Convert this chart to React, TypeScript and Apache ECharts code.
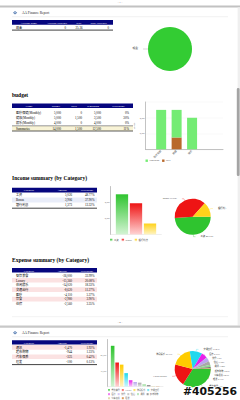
import React, { useEffect, useRef } from 'react';
import * as echarts from 'echarts';

const FONT = "'Liberation Serif','Noto Sans CJK SC',serif";

// ---------------- data ----------------
const reportTitle = 'AA Finance Report';
const pageLabels = ['- 1 -', '- 2 -'];

const accountHeaders = ['Account name', 'Account currency', 'Rate', 'Base currency'];
const accountNames = ['现金'];
const accountAmounts = [0];
const accountRates = ['25.36'];
const accountBaseAmounts = [0];

const budgetTitle = 'budget';
const budgetHeaders = ['Name', 'budget', 'used', 'remaining', 'Percentage'];
const budgetNames = ['医疗保健', '健康', '娱乐'];
const budgetPeriod = '(Monthly)';
const budgetAmounts = [5000, 5000, 4000];
const budgetUsed = [0, 1500, 0];
const budgetRemaining = [5000, 3500, 4000];
const budgetPercent = ['0%', '30%', '0%'];
const budgetSummary = ['Summarize', '14,000', '1,500', '12,500', '11%'];
const budgetSeriesNames = ['used', 'remaining'];
const budgetAxisName = 'amount';

const incomeTitle = 'Income summary (by Category)';
const expenseTitle = 'Expense summary (by Category)';
const summaryHeaders = ['Category', 'Amount', 'Percentage'];
const incomeCategories = ['工资', 'Bonus', '银行利息'];
const incomeAmounts = [5026, 3906, 1373];
const incomePercent = ['48.77%', '37.90%', '13.32%'];

const expenseCategories = ['餐饮美食', 'Luxury', '休闲娱乐', '交通出行', '医疗', '饮食', '住宿', '通讯', '超市购物', '汽车保养', '理发'];
const expenseAmounts = [26000, 15360, 14020, 8620, 4110, 2980, 2560, 1470, 944, 325, 100];
const expensePercent = ['33.99%', '20.08%', '18.33%', '11.27%', '5.37%', '3.90%', '3.35%', '1.92%', '1.23%', '0.42%', '0.13%'];
const watermark = '#405256';

// ---------------- styles ----------------
const NAVY = '#06067e';
const incomeColors = [
  ['#2fc42f', '#d4f4d4'],
  ['#ee1414', '#ffd4d4'],
  ['#ffd21a', '#fff4c4'],
];
const expenseColors = [
  ['#2fc42f', '#d4f4d4'],
  ['#ee1414', '#ffd4d4'],
  ['#ffcc00', '#fff4c4'],
  ['#22d8ee', '#d0f6fb'],
  ['#e820e8', '#f8d0f8'],
  ['#b9a6ee', '#ece6fb'],
  ['#a8a8a8', '#e8e8e8'],
  ['#8fd88f', '#e2f6e2'],
  ['#666666', '#cccccc'],
  ['#d8c888', '#f4eed8'],
  ['#c86400', '#f0d4b8'],
];

const fmt = (n: number) => n.toLocaleString('en-US');
const grad = (a: string, b: string) =>
  new echarts.graphic.LinearGradient(0, 0, 0, 1, [
    { offset: 0, color: a },
    { offset: 1, color: b },
  ]);

const txt = (x: number, y: number, text: string, o: any = {}) => ({
  type: 'text',
  x,
  y,
  silent: true,
  style: { text, fill: '#000', fontSize: 3.1, fontFamily: FONT, align: 'left', verticalAlign: 'middle', ...o },
});
const rect = (x: number, y: number, w: number, h: number, fill: string, r = 0) => ({
  type: 'rect',
  silent: true,
  shape: { x, y, width: w, height: h, r },
  style: { fill },
});
const line = (x1: number, y1: number, x2: number, y2: number, stroke: string, lineWidth: number) => ({
  type: 'line',
  silent: true,
  shape: { x1, y1, x2, y2 },
  style: { stroke, lineWidth },
});

type Col = { x: number; align: 'left' | 'right' | 'center' };
function header(x0: number, x1: number, y: number, h: number, centers: number[], labels: string[]) {
  const els: any[] = [rect(x0, y, x1 - x0, h, NAVY)];
  labels.forEach((l, i) => els.push(txt(centers[i], y + h / 2, l, { fill: '#fff', align: 'center', fontSize: 2.9 })));
  return els;
}
function rows(x0: number, x1: number, y0: number, rh: number, cols: Col[], data: string[][], fills: (string | null)[]) {
  const els: any[] = [];
  data.forEach((r, ri) => {
    const y = y0 + ri * rh;
    if (fills[ri]) els.push(rect(x0, y, x1 - x0, rh, fills[ri] as string));
    r.forEach((c, ci) => els.push(txt(cols[ci].x, y + rh / 2, c, { align: cols[ci].align })));
  });
  return els;
}
function pageHeader(y: number) {
  return [
    {
      type: 'polygon',
      silent: true,
      shape: { points: [[13, y], [15, y - 1.8], [17.2, y], [15, y + 1.8]] },
      style: { fill: '#5a7db0' },
    },
    {
      type: 'polygon',
      silent: true,
      shape: { points: [[14, y - 0.2], [15, y - 1.1], [16.2, y - 0.2], [15, y + 0.7]] },
      style: { fill: '#a9c1e0' },
    },
    txt(22, y, reportTitle, { fontSize: 3.5, fill: '#222' }),
    line(12, y + 4, 228, y + 4, '#e4e4e4', 0.5),
  ];
}

function buildGraphic() {
  const els: any[] = [];
  // page chrome
  els.push(txt(120, 2.3, pageLabels[0], { align: 'center', fontSize: 2.8, fill: '#444' }));
  els.push(rect(0, 5.6, 240, 1.8, '#c2c2c2'));
  els.push(rect(237.6, 7.4, 2.4, 318, '#efefef'));
  els.push(rect(236.8, 88, 2.8, 88, '#a4a4a4', 1.3));
  els.push(...pageHeader(12.7));

  // accounts table
  els.push(...header(12, 113, 20, 4.7, [28.7, 57, 79, 98.7], accountHeaders));
  els.push(
    ...rows(12, 113, 24.8, 5, [
      { x: 16, align: 'left' },
      { x: 66, align: 'right' },
      { x: 79, align: 'center' },
      { x: 109, align: 'right' },
    ], accountNames.map((n, i) => [n, fmt(accountAmounts[i]), accountRates[i], fmt(accountBaseAmounts[i])]), [null])
  );
  els.push(line(12, 30.1, 113, 30.1, '#111', 0.8));

  // budget
  els.push(txt(12, 94.8, budgetTitle, { fontSize: 5.5, fontWeight: 'bold' }));
  els.push(...header(12, 133, 103.6, 4.5, [29, 56, 74, 93, 118.5], budgetHeaders));
  const bCols: Col[] = [
    { x: 16, align: 'left' },
    { x: 61, align: 'right' },
    { x: 82, align: 'right' },
    { x: 101, align: 'right' },
    { x: 129, align: 'right' },
  ];
  els.push(
    ...rows(12, 133, 110.2, 5, bCols,
      budgetNames.map((n, i) => [n + budgetPeriod, fmt(budgetAmounts[i]), fmt(budgetUsed[i]), fmt(budgetRemaining[i]), budgetPercent[i]]),
      [null, null, null])
  );
  els.push(...rows(12, 133, 125.9, 5, bCols, [budgetSummary], ['#f8f3d6']));
  els.push(line(12, 125.8, 133, 125.8, '#333', 0.5));
  els.push(line(12, 131, 133, 131, '#333', 0.8));

  // income
  const sCols: Col[] = [
    { x: 16, align: 'left' },
    { x: 72, align: 'right' },
    { x: 94.5, align: 'right' },
  ];
  els.push(txt(12, 178.3, incomeTitle, { fontSize: 5.5, fontWeight: 'bold' }));
  els.push(...header(12, 97, 187.8, 4.6, [29, 62, 87], summaryHeaders));
  els.push(
    ...rows(12, 97, 192.6, 4.9, sCols,
      incomeCategories.map((c, i) => [c, fmt(incomeAmounts[i]), incomePercent[i]]),
      [null, '#e9edf9', null])
  );
  els.push(line(12, 208.2, 97, 208.2, '#111', 0.8));

  // expense (page 1 part)
  const expRows = expenseCategories.map((c, i) => [c, fmt(-expenseAmounts[i]), expensePercent[i]]);
  const expFills = expenseCategories.map((_, i) => (i % 2 === 1 ? '#fbe2e2' : null));
  els.push(txt(12, 259.5, expenseTitle, { fontSize: 5.5, fontWeight: 'bold' }));
  els.push(...header(12, 97, 268, 4.5, [29, 62, 87], summaryHeaders));
  els.push(...rows(12, 97, 273.2, 4.7, sCols, expRows.slice(0, 7), expFills.slice(0, 7)));

  // page break
  els.push(line(12, 316.7, 228, 316.7, '#e6e6e6', 0.5));
  els.push(txt(120, 322.6, pageLabels[1], { align: 'center', fontSize: 2.8, fill: '#444' }));
  els.push(rect(0, 325.4, 240, 2.4, '#c8c8c8'));
  els.push(...pageHeader(332.7));

  // expense (page 2 part)
  els.push(...header(12, 97, 340.2, 4.3, [29, 62, 87], summaryHeaders));
  els.push(...rows(12, 97, 345, 4.7, sCols, expRows.slice(7), expFills.slice(7)));
  els.push(line(12, 364.6, 97, 364.6, '#111', 0.8));

  // watermark
  els.push({
    type: 'text',
    x: 210,
    y: 391,
    z: 100,
    silent: true,
    style: {
      text: watermark,
      fill: '#111',
      stroke: '#fff',
      lineWidth: 1.6,
      fontSize: 10.8,
      fontWeight: 'bold',
      fontFamily: "'DejaVu Sans',sans-serif",
      align: 'center',
      verticalAlign: 'middle',
    },
  });
  return els;
}

const smallLabel = { fontSize: 2.5, color: '#555', fontFamily: FONT };
const axisLineStyle = { show: true, lineStyle: { color: '#9a9a9a', width: 0.6 } };

function buildOption() {
  const budgetCats = ['', ...budgetNames, '', ''];
  const pad = (arr: number[]) => ['-', ...arr, '-', '-'];

  const series: any[] = [
    // account pie
    {
      type: 'pie',
      center: [170, 49],
      radius: 22,
      startAngle: 0,
      data: accountNames.map((n, i) => ({ name: n, value: accountAmounts[i], itemStyle: { color: '#33cc33' } })),
      label: { fontSize: 2.8, formatter: '{b}', color: '#333', fontFamily: FONT },
      labelLine: { length: 2.5, length2: 2.5, lineStyle: { width: 0.4, color: '#999' } },
    },
    // budget bars
    {
      name: budgetSeriesNames[0],
      type: 'bar',
      stack: 'budget',
      xAxisIndex: 0,
      yAxisIndex: 0,
      barWidth: 10,
      itemStyle: { color: '#b9692c' },
      data: pad(budgetUsed),
    },
    {
      name: budgetSeriesNames[1],
      type: 'bar',
      stack: 'budget',
      xAxisIndex: 0,
      yAxisIndex: 0,
      barWidth: 10,
      itemStyle: { color: '#74ec74' },
      data: pad(budgetRemaining),
    },
    // income bars
    ...incomeCategories.map((c, i) => ({
      name: c,
      type: 'bar',
      xAxisIndex: 1,
      yAxisIndex: 1,
      barWidth: 12.3,
      barGap: '14%',
      itemStyle: { color: grad(incomeColors[i][0], incomeColors[i][1]) },
      data: [incomeAmounts[i]],
    })),
    // income pie
    {
      type: 'pie',
      center: [192.7, 216.7],
      radius: 18,
      startAngle: 0,
      data: incomeCategories.map((c, i) => ({ name: c, value: incomeAmounts[i], itemStyle: { color: incomeColors[i][0] } })),
      label: { fontSize: 2.4, formatter: '{b} {d}%', color: '#333', fontFamily: FONT },
      labelLine: { length: 2, length2: 2, lineStyle: { width: 0.3 } },
    },
    // expense bars
    ...expenseCategories.map((c, i) => ({
      name: c,
      type: 'bar',
      xAxisIndex: 2,
      yAxisIndex: 2,
      barWidth: 3.6,
      barGap: '25%',
      itemStyle: { color: grad(expenseColors[i][0], expenseColors[i][1]) },
      data: [expenseAmounts[i]],
    })),
    // expense pie
    {
      type: 'pie',
      center: [192.7, 369],
      radius: 18,
      startAngle: 0,
      data: expenseCategories.map((c, i) => ({ name: c, value: expenseAmounts[i], itemStyle: { color: expenseColors[i][0] } })),
      label: { fontSize: 2.2, formatter: '{b} {d}%', color: '#333', fontFamily: FONT },
      labelLine: { length: 2, length2: 2, lineStyle: { width: 0.3 } },
    },
  ];

  const legendBase = {
    itemWidth: 2.4,
    itemHeight: 2.4,
    itemGap: 3,
    padding: 0,
    icon: 'rect',
    textStyle: { fontSize: 2.4, color: '#555', fontFamily: FONT, padding: [0, 0, 0, -3.5] },
  };

  return {
    animation: false,
    backgroundColor: '#ffffff',
    textStyle: { fontFamily: FONT },
    graphic: { elements: buildGraphic() },
    grid: [
      { left: 145.7, top: 102, width: 77.3, height: 47.3 },
      { left: 110.7, top: 186.5, width: 50.6, height: 48 },
      { left: 107.3, top: 339.5, width: 55.7, height: 47.2 },
    ],
    xAxis: [
      {
        gridIndex: 0,
        type: 'category',
        boundaryGap: false,
        data: budgetCats,
        axisLine: axisLineStyle,
        axisTick: { show: false },
        axisLabel: { ...smallLabel, rotate: 45, interval: 0, margin: 1.5 },
      },
      {
        gridIndex: 1,
        type: 'category',
        data: ['income'],
        axisLine: { show: true, lineStyle: { color: '#dddddd', width: 0.5 } },
        axisTick: { show: false },
        axisLabel: { show: false },
      },
      {
        gridIndex: 2,
        type: 'category',
        data: ['expense'],
        axisLine: { show: true, lineStyle: { color: '#dddddd', width: 0.5 } },
        axisTick: { show: false },
        axisLabel: { show: false },
      },
    ],
    yAxis: [
      {
        gridIndex: 0,
        type: 'value',
        min: 0,
        max: 6000,
        interval: 2000,
        name: budgetAxisName,
        nameLocation: 'middle',
        nameGap: 4.5,
        nameTextStyle: { fontSize: 2.3, color: '#555' },
        axisLine: axisLineStyle,
        axisTick: { show: false },
        axisLabel: { ...smallLabel, fontSize: 2.2, margin: 1, showMinLabel: false, showMaxLabel: false, formatter: (v: number) => fmt(v) },
        splitLine: { lineStyle: { color: '#efefef', width: 0.4 } },
      },
      {
        gridIndex: 1,
        type: 'value',
        min: 0,
        max: 6000,
        interval: 2000,
        axisLine: axisLineStyle,
        axisTick: { show: false },
        axisLabel: { ...smallLabel, fontSize: 2.2, margin: 1, showMinLabel: false, showMaxLabel: false, formatter: (v: number) => fmt(v) },
        splitLine: { show: false },
      },
      {
        gridIndex: 2,
        type: 'value',
        min: 0,
        max: 30000,
        interval: 10000,
        axisLine: axisLineStyle,
        axisTick: { show: false },
        axisLabel: { ...smallLabel, fontSize: 2.1, margin: 1, showMinLabel: false, showMaxLabel: false, formatter: (v: number) => fmt(v) },
        splitLine: { show: false },
      },
    ],
    legend: [
      { ...legendBase, left: 145.5, top: 159.5, data: [budgetSeriesNames[1], budgetSeriesNames[0]] },
      { ...legendBase, left: 110, top: 238.8, data: incomeCategories },
      { ...legendBase, left: 108, top: 389.3, width: 54, itemGap: 2, itemWidth: 2, itemHeight: 2, textStyle: { ...legendBase.textStyle, fontSize: 2.1 }, data: expenseCategories },
    ],
    series,
  };
}

export default function App() {
  const ref = useRef<HTMLDivElement>(null);
  useEffect(() => {
    const el = ref.current;
    if (!el) return;
    const chart = echarts.init(el, null, { renderer: 'svg', width: 240, height: 400 });
    chart.setOption(buildOption() as any);
    return () => chart.dispose();
  }, []);
  return (
    <div
      ref={ref}
      style={{ position: 'fixed', left: 0, top: 0, width: 240, height: 400, background: '#fff' }}
    />
  );
}
